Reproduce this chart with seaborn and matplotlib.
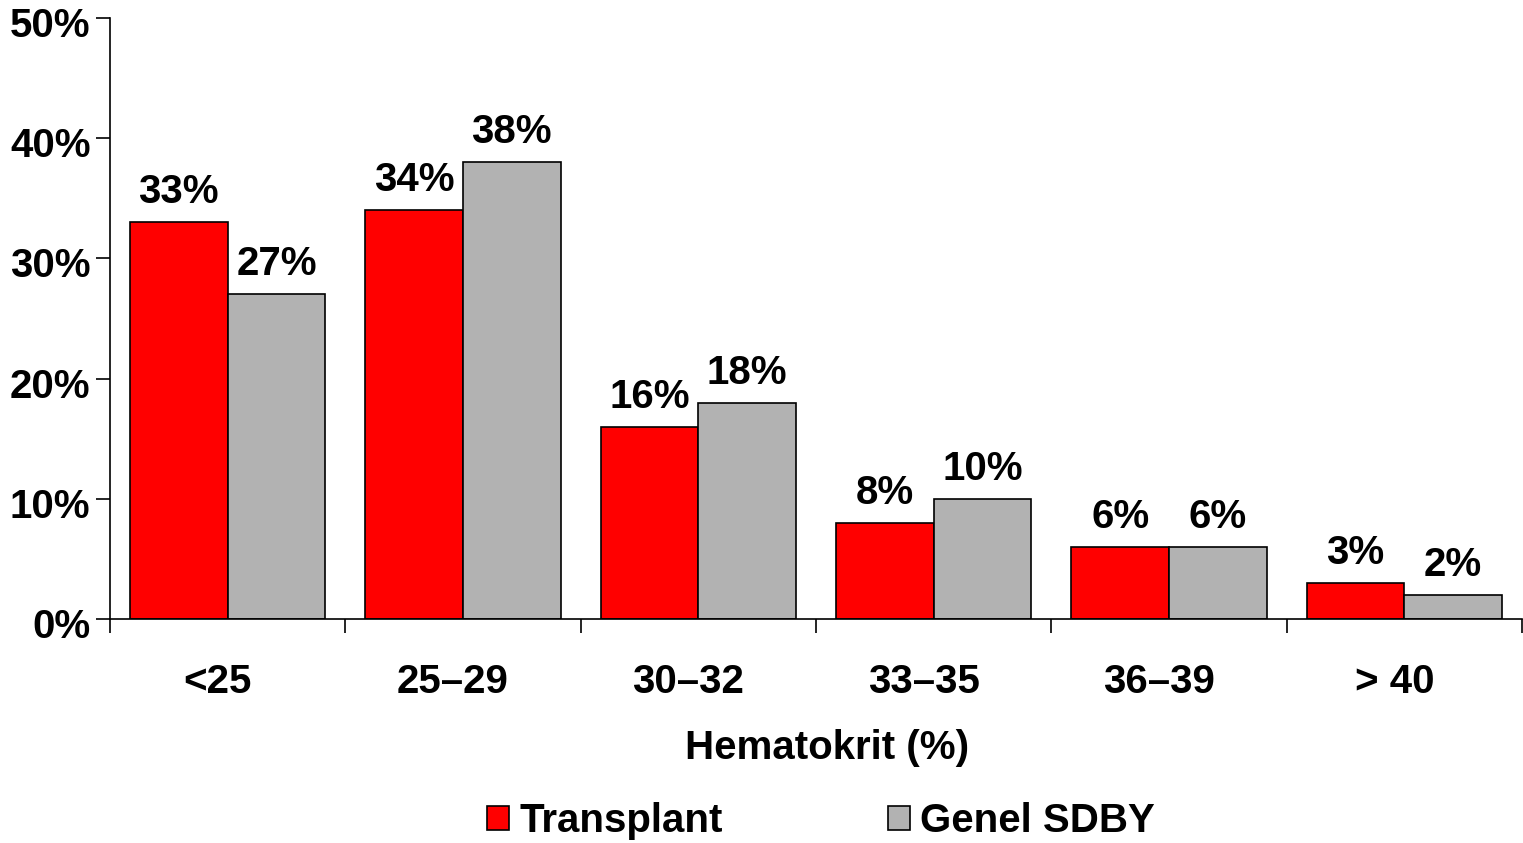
import numpy as np
import pandas as pd
import matplotlib
matplotlib.use('Agg')
import matplotlib.pyplot as plt
import matplotlib.transforms as mtrans
import seaborn as sns
from matplotlib.patches import Patch
from matplotlib.ticker import FixedLocator

categories = ['<25', '25–29', '30–32', '33–35', '36–39', '> 40']
transplant = [33, 34, 16, 8, 6, 3]
genel_sdby = [27, 38, 18, 10, 6, 2]
series_names = ['Transplant', 'Genel SDBY']
colors = ['#FF0000', '#B2B2B2']
y_ticks = [0, 10, 20, 30, 40, 50]

df = pd.DataFrame({
    'group': categories * 2,
    'series': [series_names[0]] * len(categories) + [series_names[1]] * len(categories),
    'value': transplant + genel_sdby,
})

sns.set_style('white')
plt.rcParams['font.family'] = ['Liberation Sans', 'DejaVu Sans']
plt.rcParams['font.weight'] = 'bold'
for k in ['text.color', 'axes.labelcolor', 'xtick.color', 'ytick.color']:
    plt.rcParams[k] = 'black'
fs = 29

fig = plt.figure(figsize=(15.23, 8.43), dpi=100)
ax = fig.add_axes([110 / 1523, (843 - 619) / 843, 1412 / 1523, (619 - 18) / 843])

sns.barplot(data=df, x='group', y='value', hue='series', order=categories,
            hue_order=series_names, palette=colors, width=0.83, gap=0,
            edgecolor='black', linewidth=1.2, saturation=1, legend=False, ax=ax)

for cont in ax.containers:
    ax.bar_label(cont, labels=[f'{v:.0f}%' for v in cont.datavalues],
                 padding=8, fontsize=fs, fontweight='bold', color='black')

ax.set_xlim(-0.5, len(categories) - 0.5)
ax.set_ylim(0, 50)
ax.set_yticks(y_ticks)
ax.set_yticklabels([f'{t}%' for t in y_ticks], fontsize=fs, fontweight='bold')
ax.tick_params(axis='y', length=10, width=1.2, direction='out', color='black', pad=4, left=True)
ax.tick_params(axis='x', which='major', length=0, pad=32, labelsize=fs)
ax.xaxis.set_minor_locator(FixedLocator(np.arange(-0.5, len(categories), 1.0)))
ax.tick_params(axis='x', which='minor', length=10, width=1.2, direction='out', color='black', bottom=True)
xshift = mtrans.ScaledTranslation(-10 / 100, 0, fig.dpi_scale_trans)
for lbl in ax.get_xticklabels():
    lbl.set_fontweight('bold')
    lbl.set_transform(lbl.get_transform() + xshift)
yshift = mtrans.ScaledTranslation(0, -4 / 100, fig.dpi_scale_trans)
for lbl in ax.get_yticklabels():
    lbl.set_transform(lbl.get_transform() + yshift)

for s in ['top', 'right']:
    ax.spines[s].set_visible(False)
for s in ['left', 'bottom']:
    ax.spines[s].set_color('black')
    ax.spines[s].set_linewidth(1.2)

ax.set_ylabel('')
ax.set_xlabel('Hematokrit (%)', fontsize=fs, fontweight='bold')
ax.xaxis.set_label_coords(827 / 1523, 1 - 748 / 843, transform=fig.transFigure)
ax.xaxis.label.set_va('center')

handles = [Patch(facecolor=c, edgecolor='black', linewidth=1.2) for c in colors]
fig.legend(handles, series_names, loc='center', bbox_to_anchor=(821 / 1523, 1 - 821 / 843),
           ncol=2, frameon=False, prop={'weight': 'bold', 'size': fs},
           handlelength=0.55, handleheight=0.55, handletextpad=0.25, columnspacing=4.1)

fig.savefig('out.png', dpi=100)
